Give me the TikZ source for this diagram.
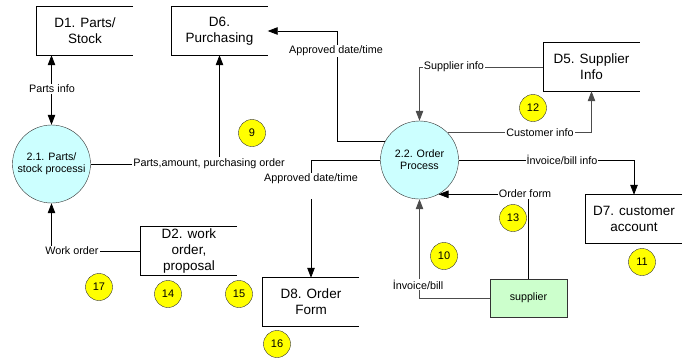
\documentclass[tikz,border=0pt]{standalone}
\usepackage{fontspec}
\setmainfont{Liberation Sans}
\usetikzlibrary{arrows.meta}
\definecolor{procfill}{RGB}{204,255,255}
\definecolor{supfill}{RGB}{204,255,204}
\definecolor{badgefill}{RGB}{255,255,0}
\begin{document}
\begin{tikzpicture}[x=1pt,y=-1pt,
  store/.style={minimum width=96pt,minimum height=48pt,inner sep=0pt,align=center,
    font=\fontsize{13.5}{16}\selectfont},
  storeline/.style={draw=black,line width=0.9pt},
  proc/.style={circle,draw=black!80,fill=procfill,minimum size=78pt,inner sep=0pt,
    align=center,font=\fontsize{10.7}{12}\selectfont},
  ext/.style={draw=black!80,fill=supfill,minimum width=77pt,minimum height=38pt,
    inner sep=0pt,font=\fontsize{10.7}{12}\selectfont},
  flow/.style={draw=black,line width=0.8pt,-{Triangle[length=10pt,width=7.5pt]}},
  gflow/.style={flow,draw=black!70},
  flowlbl/.style={fill=white,inner sep=1pt,font=\fontsize{10.8}{12}\selectfont},
  badge/.style={circle,draw=black!80,fill=badgefill,minimum size=27pt,inner sep=0pt,
    font=\fontsize{11}{12}\selectfont}
]
\useasboundingbox (0,0) rectangle (688,360);

% data stores
\node[store] (D1) at (85,31) {D1. Parts/\\Stock};
\node[store] (D6) at (219.5,31) {D6.\\Purchasing};
\node[store] (D5) at (591.5,67) {D5. Supplier\\Info};
\node[store] (D7) at (634,219) {D7. customer\\account};
\node[store] (D8) at (311,302) {D8. Order\\Form};
\node[store] (D2) at (189,251) {D2. work\\order,\\proposal};
\foreach \s in {D1,D6,D5,D7,D8,D2}{
  \draw[storeline] (\s.north east) -- (\s.north west) -- (\s.south west) -- (\s.south east);
}

% processes
\node[proc] (c21) at (51.5,164) {2.1. Parts/\\stock processi};
\node[proc] (c22) at (419.5,160) {2.2. Order\\Process};

% external entity
\node[ext] (sup) at (528.5,298) {supplier};

% connectors
\draw[flow,{Triangle[length=10pt,width=7.5pt]}-{Triangle[length=10pt,width=7.5pt]}]
  (c21.north) -- (c21.north |- D1.south);
\node[flowlbl] (l1) at (52,89) {Parts info};

\draw[flow] (c21.east) -- (D6.south |- c21.east) -- (D6.south);
\node[flowlbl] (l2) at (209,163.5) {Parts,amount, purchasing order};

\coordinate (k1) at (337,31);
\draw[flow] (c22.151) -| (k1) -- (D6.east);
\node[flowlbl] (l3) at (336,51) {Approved date/time};

\draw[gflow] (D5.west) -| (c22.north);
\node[flowlbl] (l4) at (454,67) {Supplier info};

\draw[gflow] (c22.44) -| (D5.south);
\node[flowlbl] (l5) at (540,133) {Customer info};

\draw[flow] (c22.east) -| (D7.north);
\node[flowlbl] (l6) at (562,160) {İnvoice/bill info};

\draw[flow] (sup.north) |- (c22.-61);
\node[flowlbl] (l7) at (525,194) {Order form};

\draw[gflow] (sup.west) -| (c22.south);
\node[flowlbl] (l8) at (418,284.5) {İnvoice/bill};

\draw[flow] (c22.west) -| (D8.north);
\node[flowlbl,inner sep=0pt,anchor=base,text height=8pt,text depth=18pt] (l9) at (311,181) {Approved date/time};

\draw[flow] (D2.west) -| (c21.south);
\node[flowlbl] (l10) at (72,251) {Work order};

% numbered badges
\node[badge] (b9) at (252,133) {9};
\node[badge] (b12) at (533,108) {12};
\node[badge] (b13) at (513,218) {13};
\node[badge] (b10) at (444,256) {10};
\node[badge] (b11) at (642,262) {11};
\node[badge] (b17) at (99,287) {17};
\node[badge] (b14) at (168,294) {14};
\node[badge] (b15) at (239,294) {15};
\node[badge] (b16) at (277,344) {16};
\end{tikzpicture}
\end{document}
